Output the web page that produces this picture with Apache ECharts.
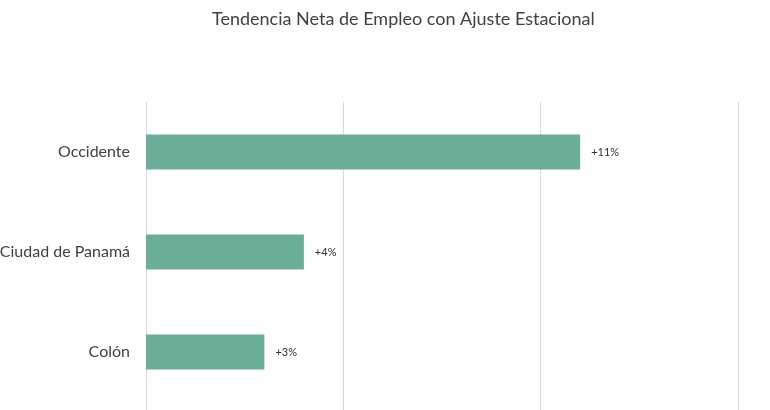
<!DOCTYPE html>
<html><head><meta charset="utf-8">
<script src="https://cdn.jsdelivr.net/npm/echarts@6/dist/echarts.min.js"></script>
<style>html,body{margin:0;padding:0;background:#fff}#c{width:770px;height:410px}</style>
</head><body><div id="c"></div>
<script>
const categories = ['Occidente', 'Ciudad de Panamá', 'Colón'];
const values = [11, 4, 3];
const valueLabels = ['+11%', '+4%', '+3%'];
const chartTitle = 'Tendencia Neta de Empleo con Ajuste Estacional';

const font = 'Lato';
const chart = echarts.init(document.getElementById('c'));
chart.setOption({
  animation: false,
  title: { text: chartTitle, left: 207, top: 5,
    textStyle: { fontFamily: font, fontSize: 18, fontWeight: 'normal', color: '#404040' } },
  grid: [
    { left: 146, right: 32, top: 102, height: 300, outerBoundsMode: 'none', containLabel: false },
    { left: 146, right: 32, top: 102, bottom: -10, outerBoundsMode: 'none', containLabel: false }
  ],
  xAxis: [
    { gridIndex: 0, type: 'value', min: 0, max: 15, interval: 5,
      axisLabel: { show: false }, axisLine: { show: false }, axisTick: { show: false },
      splitLine: { show: false } },
    { gridIndex: 1, type: 'value', min: 0, max: 15, interval: 5,
      axisLabel: { show: false }, axisLine: { show: false }, axisTick: { show: false },
      splitLine: { show: true, lineStyle: { color: '#d9d9d9', width: 1 } } }
  ],
  yAxis: [
    { gridIndex: 0, type: 'category', data: categories, inverse: true,
      axisLine: { show: false }, axisTick: { show: false },
      axisLabel: { margin: 16, fontFamily: font, fontSize: 16, color: '#404040' } },
    { gridIndex: 1, type: 'category', data: [''], show: false }
  ],
  series: [{
    type: 'bar', xAxisIndex: 0, yAxisIndex: 0,
    data: values, barWidth: 35,
    itemStyle: { color: '#6aae98' },
    label: { show: true, position: 'right', distance: 11,
      formatter: p => valueLabels[p.dataIndex],
      fontFamily: font, fontSize: 11, color: '#303030' }
  }]
});
</script></body></html>
